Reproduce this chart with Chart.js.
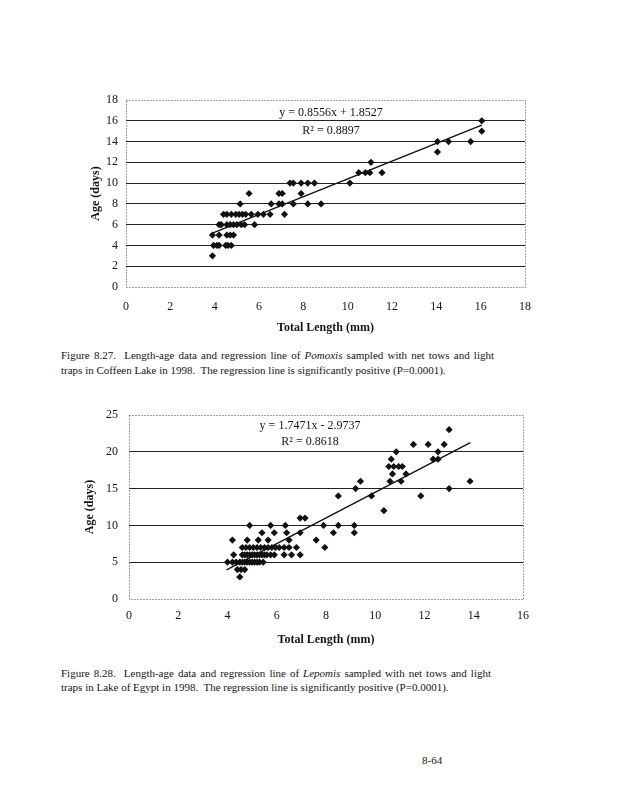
<!DOCTYPE html>
<html>
<head>
<meta charset="utf-8">
<script src="https://cdn.jsdelivr.net/npm/chart.js@4.4.0/dist/chart.umd.min.js"></script>
<style>
  body { margin: 0; background: #fff; width: 618px; height: 800px; position: relative; overflow: hidden;
         font-family: 'Liberation Serif', 'Times New Roman', serif; color: #151515; }
  canvas { position: absolute; }
  .cap { position: absolute; left: 61px; width: 433px; font-size: 11px; white-space: nowrap; }
  .cap .j { text-align: justify; text-align-last: justify; }
  .pg { position: absolute; left: 422px; top: 754px; font-size: 11px; }
</style>
</head>
<body>
<canvas id="pomoxisChart" width="500" height="250" style="left:40px;top:90px"></canvas>
<div class="cap" style="top:348px;line-height:15px">
  <div class="j">Figure 8.27.&nbsp; Length-age data and regression line of <i>Pomoxis</i> sampled with net tows and light</div>
  <div>traps in Coffeen Lake in 1998.&nbsp; The regression line is significantly positive (P=0.0001).</div>
</div>
<canvas id="lepomisChart" width="500" height="250" style="left:40px;top:405px"></canvas>
<div class="cap" style="top:666px;line-height:14px;width:430px">
  <div class="j">Figure 8.28.&nbsp; Length-age data and regression line of <i>Lepomis</i> sampled with net tows and light</div>
  <div>traps in Lake of Egypt in 1998.&nbsp; The regression line is significantly positive (P=0.0001).</div>
</div>
<div class="pg">8-64</div>
<script>
// Figure 8.27 - Pomoxis, Coffeen Lake
const pomoxisLength = [
  3.9,
  3.95, 4.1, 4.2, 4.5, 4.6, 4.75,
  3.9, 4.2, 4.55, 4.7, 4.85,
  4.2, 4.3, 4.55, 4.7, 4.85, 5.0, 5.2, 5.35, 5.8,
  4.4, 4.55, 4.75, 4.95, 5.1, 5.25, 5.4, 5.65, 5.95, 6.2, 6.5, 7.15,
  5.15, 6.55, 6.9, 7.05, 7.55, 8.2, 8.8,
  5.55, 6.9, 7.05, 7.9,
  7.4, 7.55, 7.9, 8.2, 8.5, 10.1,
  10.5, 10.8, 11.0, 11.55,
  11.05,
  14.05,
  14.05, 14.55, 15.55,
  16.05,
  16.05
];
const pomoxisAge = [
  3,
  4, 4, 4, 4, 4, 4,
  5, 5, 5, 5, 5,
  6, 6, 6, 6, 6, 6, 6, 6, 6,
  7, 7, 7, 7, 7, 7, 7, 7, 7, 7, 7, 7,
  8, 8, 8, 8, 8, 8, 8,
  9, 9, 9, 9,
  10, 10, 10, 10, 10, 10,
  11, 11, 11, 11,
  12,
  13,
  14, 14, 14,
  15,
  16
];
const pomoxisFit = { slope: 0.8556, intercept: 1.8527, r2: 0.8897, from: 3.9, to: 16.05 };

// Figure 8.28 - Lepomis, Lake of Egypt
const lepomisLength = [
  4.5,
  4.4, 4.55, 4.7,
  4.0, 4.2, 4.35, 4.5, 4.6, 4.7, 4.8, 4.9, 5.0, 5.1, 5.2, 5.3, 5.45,
  4.25, 4.6, 4.7, 4.8, 4.9, 5.0, 5.1, 5.2, 5.3, 5.4, 5.5, 5.6, 5.75, 5.9, 6.3, 6.6, 6.95,
  4.6, 4.75, 4.9, 5.05, 5.2, 5.35, 5.5, 5.65, 5.8, 5.95, 6.1, 6.3, 6.5, 6.8, 7.95,
  4.2, 4.8, 5.25, 5.65, 6.5, 7.6,
  5.4, 5.9, 6.4, 6.95, 8.3, 9.15,
  4.9, 5.75, 6.35, 7.9, 8.5, 9.15,
  6.95, 7.15,
  10.35,
  8.5, 9.85, 11.85,
  9.2, 13.0,
  9.4, 10.6, 11.05, 13.85,
  10.7, 11.25,
  10.55, 10.75, 10.95, 11.1,
  10.65, 12.35, 12.55,
  10.85, 12.55,
  11.55, 12.15, 12.8,
  13.0
];
const lepomisAge = [
  3,
  4, 4, 4,
  5, 5, 5, 5, 5, 5, 5, 5, 5, 5, 5, 5, 5,
  6, 6, 6, 6, 6, 6, 6, 6, 6, 6, 6, 6, 6, 6, 6, 6, 6,
  7, 7, 7, 7, 7, 7, 7, 7, 7, 7, 7, 7, 7, 7, 7,
  8, 8, 8, 8, 8, 8,
  9, 9, 9, 9, 9, 9,
  10, 10, 10, 10, 10, 10,
  11, 11,
  12,
  14, 14, 14,
  15, 15,
  16, 16, 16, 16,
  17, 17,
  18, 18, 18, 18,
  19, 19, 19,
  20, 20,
  21, 21, 21,
  23
];
const lepomisFit = { slope: 1.7471, intercept: -2.9737, r2: 0.8618, from: 3.96, to: 13.86 };

const serif = "'Liberation Serif', 'Times New Roman', serif";
const ink = '#151515';

// dotted frame round the plot area
const plotFrame = {
  id: 'plotFrame',
  beforeDatasetsDraw(chart) {
    const { ctx, chartArea: a } = chart;
    ctx.save();
    ctx.strokeStyle = '#444';
    ctx.lineWidth = 1;
    ctx.setLineDash([1, 2]);
    ctx.strokeRect(a.left + 0.5, a.top + 0.5, a.right - a.left, a.bottom - a.top);
    ctx.restore();
  }
};

// trendline equation text, placed in data units
const eqLabel = {
  id: 'eqLabel',
  afterDatasetsDraw(chart, args, opts) {
    const { ctx, scales } = chart;
    ctx.save();
    ctx.fillStyle = ink;
    ctx.font = '12px ' + serif;
    ctx.textAlign = 'center';
    ctx.textBaseline = 'middle';
    opts.lines.forEach(l => ctx.fillText(l.text, scales.x.getPixelForValue(l.x), scales.y.getPixelForValue(l.y)));
    ctx.restore();
  }
};

function fmt(v) { return (v < 0 ? '- ' : '+ ') + Math.abs(v).toFixed(4); }

function makeChart(id, lengths, ages, fit, cfg) {
  const points = lengths.map((x, i) => ({ x: x, y: ages[i] }));
  const line = [fit.from, fit.to].map(x => ({ x: x, y: fit.slope * x + fit.intercept }));
  return new Chart(document.getElementById(id), {
    type: 'scatter',
    data: {
      datasets: [
        { data: points, pointStyle: 'rectRot', pointRadius: 3.6, backgroundColor: '#111', borderWidth: 0 },
        { type: 'line', data: line, borderColor: '#111', borderWidth: 1.4, pointRadius: 0, fill: false }
      ]
    },
    plugins: [plotFrame, eqLabel],
    options: {
      responsive: false,
      animation: false,
      layout: { padding: { top: 10, right: cfg.padRight, left: 0, bottom: 0 } },
      plugins: {
        legend: { display: false },
        tooltip: { enabled: false },
        eqLabel: {
          lines: [
            { text: 'y = ' + fit.slope.toFixed(4) + 'x ' + fmt(fit.intercept), x: cfg.eqX, y: cfg.eqY[0] },
            { text: 'R\u00b2 = ' + fit.r2.toFixed(4), x: cfg.eqX, y: cfg.eqY[1] }
          ]
        }
      },
      scales: {
        x: {
          type: 'linear', min: 0, max: cfg.xMax,
          // fixed axis box, no extra edge padding from the tick labels
          afterFit(s) { s.height = cfg.xHeight; s.paddingLeft = 0; s.paddingRight = 0; },
          grid: { display: false, drawTicks: false },
          border: { display: false },
          ticks: { stepSize: 2, padding: cfg.xPad, color: ink, font: { family: serif, size: 12 } },
          title: { display: true, text: 'Total Length (mm)', color: ink,
                   font: { family: serif, size: 12, weight: 'bold' }, padding: { top: 0, bottom: cfg.xTitlePad } }
        },
        y: {
          min: 0, max: cfg.yMax,
          afterFit(s) { s.width = cfg.yWidth; s.paddingTop = 0; s.paddingBottom = 0; },
          grid: { drawTicks: false, lineWidth: 1,
                  color: c => (c.tick.value === 0 || c.tick.value === cfg.yMax) ? 'rgba(0,0,0,0)' : '#222' },
          border: { display: false },
          ticks: { stepSize: cfg.yStep, padding: cfg.yPad, color: ink, font: { family: serif, size: 12 } },
          title: { display: true, text: 'Age (days)', color: ink,
                   font: { family: serif, size: 12, weight: 'bold' }, padding: { top: cfg.yTitlePad, bottom: 0 } }
        }
      }
    }
  });
}

makeChart('pomoxisChart', pomoxisLength, pomoxisAge, pomoxisFit, {
  xMax: 18, yMax: 18, yStep: 2, padRight: 15, xHeight: 53, yWidth: 86,
  xPad: 13, yPad: 8, xTitlePad: 5, yTitlePad: 49, eqX: 9.25, eqY: [16.75, 15.0]
});

makeChart('lepomisChart', lepomisLength, lepomisAge, lepomisFit, {
  xMax: 16, yMax: 25, yStep: 5, padRight: 17, xHeight: 56, yWidth: 89,
  xPad: 10, yPad: 11, xTitlePad: 8, yTitlePad: 43, eqX: 7.35, eqY: [23.5, 21.35]
});
</script>
</body>
</html>
